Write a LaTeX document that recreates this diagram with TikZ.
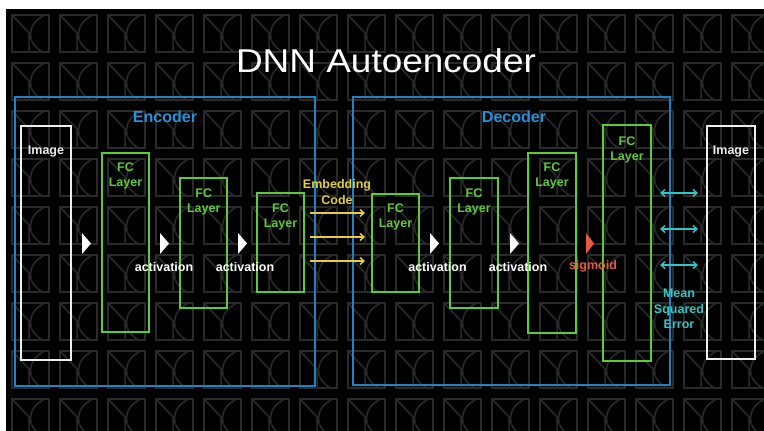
\documentclass[tikz,border=0pt]{standalone}
\usepackage{fontspec}
\usepackage{graphicx}
\setmainfont{Liberation Sans}
\usetikzlibrary{arrows.meta,calc}
\definecolor{tilec}{HTML}{2A2A2A}
\definecolor{boxblue}{HTML}{1E82C3}
\definecolor{txtblue}{HTML}{2292DA}
\definecolor{fcgreen}{HTML}{5CCB34}
\definecolor{embyellow}{HTML}{E6CF35}
\definecolor{msecyan}{HTML}{2EC6C6}
\definecolor{sigred}{HTML}{E85A40}
\definecolor{chalk}{HTML}{EDEDED}
\begin{document}
\begin{tikzpicture}[x=1pt,y=-1pt,
  tile/.style={draw=tilec,line width=1.5pt},
  fcbox/.style={draw=fcgreen,line width=2pt,rectangle,inner sep=0pt},
  imgbox/.style={draw=chalk,line width=2pt,rectangle,inner sep=0pt},
  partbox/.style={draw=boxblue,line width=1.3pt,rectangle,inner sep=0pt},
  small/.style={font=\bfseries\fontsize{12.5}{15.5}\selectfont,inner sep=0pt,align=center},
  fclabel/.style={small,text=fcgreen,anchor=north},
  actlabel/.style={small,text=white},
  parttitle/.style={font=\bfseries\fontsize{16}{19}\selectfont,text=txtblue,inner sep=0pt},
  flow/.style={fill=white},
  yarrow/.style={draw=embyellow,line width=1.4pt,-{Straight Barb[length=4pt,width=7pt]}},
  carrow/.style={draw=msecyan,line width=1.4pt,{Straight Barb[length=4pt,width=7pt]}-{Straight Barb[length=4pt,width=7pt]}}
]
\useasboundingbox (0,0) rectangle (764,431);
\fill[white] (0,0) rectangle (764,431);
\fill[black] (6,9) rectangle (764,431);
% background tiles
\begin{scope}
\clip (6,9) rectangle (764,431);
\foreach \i in {0,...,15} {
  \foreach \j in {0,...,8} {
    \begin{scope}[shift={(12+48*\i,15+48*\j)}]
      \draw[tile] (0,0) rectangle (37,37);
      \draw[tile] (0,0) -- (17,18) -- (17,37);
      \draw[tile] (33,0) .. controls (15,8) and (13,28) .. (31,37);
    \end{scope}
  }
}
\end{scope}
% title
\node[font=\fontsize{33}{40}\selectfont,text=white,anchor=base,inner sep=0pt] (title) at (386,72) {\scalebox{1.12}[1]{DNN Autoencoder}};
% encoder / decoder frames
\node[partbox,minimum width=300pt,minimum height=289pt] (enc) at (165,241.5) {};
\node[partbox,minimum width=317pt,minimum height=288pt] (dec) at (511.5,241) {};
\node[parttitle] (enct) at (165,117) {Encoder};
\node[parttitle] (dect) at (514,117) {Decoder};
% images
\node[imgbox,minimum width=50pt,minimum height=234pt] (imgL) at (46,243) {};
\node[imgbox,minimum width=48pt,minimum height=233pt] (imgR) at (731,242.5) {};
\node[small,text=chalk,anchor=north] (imgLt) at ([yshift=-20.5pt]imgL.north) {Image};
\node[small,text=chalk,anchor=north] (imgRt) at ([yshift=-20.5pt]imgR.north) {Image};
% FC layers
\node[fcbox,minimum width=47pt,minimum height=179pt] (e1) at (125.5,242.5) {};
\node[fcbox,minimum width=47pt,minimum height=130pt] (e2) at (203.75,243) {};
\node[fcbox,minimum width=47pt,minimum height=99pt] (e3) at (280.5,242.5) {};
\node[fcbox,minimum width=47pt,minimum height=98pt] (d1) at (395.5,243) {};
\node[fcbox,minimum width=48pt,minimum height=130pt] (d2) at (474,243) {};
\node[fcbox,minimum width=48pt,minimum height=180pt] (d3) at (552,243) {};
\node[fcbox,minimum width=48pt,minimum height=236pt] (d4) at (627,243) {};
\node[fclabel] (e1t) at ([yshift=-10.5pt]e1.north) {FC\\Layer};
\node[fclabel] (e2t) at ([yshift=-11.5pt]e2.north) {FC\\Layer};
\node[fclabel] (e3t) at ([yshift=-11.5pt]e3.north) {FC\\Layer};
\node[fclabel] (d1t) at ([yshift=-10.5pt]d1.north) {FC\\Layer};
\node[fclabel] (d2t) at ([yshift=-11.5pt]d2.north) {FC\\Layer};
\node[fclabel] (d3t) at ([yshift=-10.5pt]d3.north) {FC\\Layer};
\node[fclabel] (d4t) at ([yshift=-12.5pt]d4.north) {FC\\Layer};
% flow triangles
\fill[flow] (82,233) -- (91,243.5) -- (82,254) -- cycle;
\fill[flow] (160,233) -- (169,243.5) -- (160,254) -- cycle;
\fill[flow] (238,233) -- (247,243.5) -- (238,254) -- cycle;
\fill[flow] (430,233) -- (439,243.5) -- (430,254) -- cycle;
\fill[flow] (510,233) -- (519,243.5) -- (510,254) -- cycle;
\fill[sigred] (586,233) -- (594,243.5) -- (586,254) -- cycle;
% activation labels
\node[actlabel] (a1) at (164,267) {activation};
\node[actlabel] (a2) at (245,267) {activation};
\node[actlabel] (a3) at (437.5,267) {activation};
\node[actlabel] (a4) at (518,267) {activation};
\node[small,text=sigred] (sig) at (593,266) {sigmoid};
% embedding code
\node[small,text=embyellow] (emb) at (337,192) {Embedding\\Code};
\coordinate (y1s) at (310,213); \coordinate (y1e) at (365,213);
\coordinate (y2s) at (310,237); \coordinate (y2e) at (365,237);
\coordinate (y3s) at (310,261); \coordinate (y3e) at (365,261);
\draw[yarrow] (y1s) -- (y1e);
\draw[yarrow] (y2s) -- (y2e);
\draw[yarrow] (y3s) -- (y3e);
% mean squared error
\coordinate (c1s) at (660,193); \coordinate (c1e) at (698,193);
\coordinate (c2s) at (660,229); \coordinate (c2e) at (698,229);
\coordinate (c3s) at (660,265); \coordinate (c3e) at (698,265);
\draw[carrow] (c1s) -- (c1e);
\draw[carrow] (c2s) -- (c2e);
\draw[carrow] (c3s) -- (c3e);
\node[small,text=msecyan] (mse) at (679,309) {Mean\\Squared\\Error};
\end{tikzpicture}
\end{document}
